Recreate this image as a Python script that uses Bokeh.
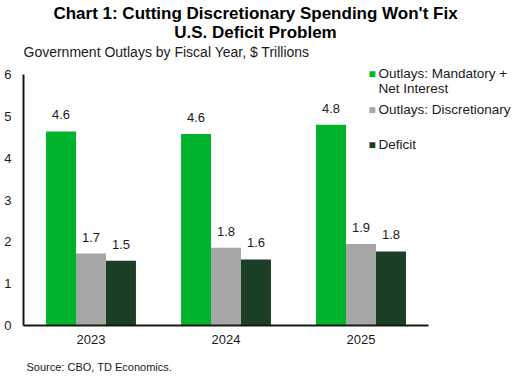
from bokeh.plotting import figure
from bokeh.models import ColumnDataSource, Range1d, LabelSet, Label, FixedTicker, Title
from bokeh.core.properties import value
from bokeh.embed import file_html
from bokeh.resources import INLINE

years = ["2023", "2024", "2025"]
mandatory = [4.64, 4.58, 4.80]
discretionary = [1.72, 1.86, 1.95]
deficit = [1.55, 1.58, 1.77]
mandatory_lbl = ["4.6", "4.6", "4.8"]
discretionary_lbl = ["1.7", "1.8", "1.9"]
deficit_lbl = ["1.5", "1.6", "1.8"]
series_names = [["Outlays: Mandatory +", "Net Interest"], ["Outlays: Discretionary"], ["Deficit"]]
colors = ["#00B32C", "#A6A6A6", "#1B3F24"]
y_ticks = [0, 1, 2, 3, 4, 5, 6]

# layout (pixels)
W, H = 516, 385
FL, FB = 23, 60                 # frame left / bottom border
AX_TOP, AX_RIGHT = 74, 428      # where the y=6 level and the last category end sit
ppu_y = (H - FB - AX_TOP) / (y_ticks[-1] - y_ticks[0])
ppu_x = (AX_RIGHT - FL) / len(years)
x_end = (W - FL) / ppu_x
y_end = y_ticks[-1] + AX_TOP / ppu_y

xc = [i + 0.5 for i in range(len(years))]
bw = 0.222
src = ColumnDataSource(dict(
    xm=[x - bw for x in xc], xd=xc, xf=[x + bw for x in xc],
    m=mandatory, d=discretionary, f=deficit,
    ml=mandatory_lbl, dl=discretionary_lbl, fl=deficit_lbl))

p = figure(x_range=Range1d(0, x_end), y_range=Range1d(0, y_end),
           width=W, height=H, output_backend="svg", toolbar_location=None,
           min_border_left=FL, min_border_right=0, min_border_top=0, min_border_bottom=FB)
p.outline_line_color = None
p.xgrid.grid_line_color = None
p.ygrid.grid_line_color = None

FONT = "Liberation Sans"
TXT = "#1a1a1a"
for xk, fld, lb, c in zip(["xm", "xd", "xf"], ["m", "d", "f"], ["ml", "dl", "fl"], colors):
    p.vbar(x=xk, top=fld, width=bw, source=src, fill_color=c, line_color=None)
    p.add_layout(LabelSet(x=xk, y=fld, text=lb, source=src,
                          text_align="center", text_baseline="alphabetic", y_offset=12,
                          text_font=value(FONT), text_font_size=value("13px"),
                          text_color=TXT))

for ax in (p.xaxis[0], p.yaxis[0]):
    ax.axis_line_color = "#141a10"
    ax.axis_line_width = 2
    ax.major_tick_line_color = None
    ax.minor_tick_line_color = None
    ax.major_tick_out = 0
    ax.major_tick_in = 0
    ax.minor_tick_out = 0
    ax.minor_tick_in = 0
    ax.major_label_text_font = FONT
    ax.major_label_text_font_size = "13px"
    ax.major_label_text_color = TXT
p.xaxis.bounds = (0, len(years))
p.yaxis.bounds = (y_ticks[0], y_ticks[-1])
p.xaxis.ticker = FixedTicker(ticks=xc)
p.xaxis.major_label_overrides = {x: y for x, y in zip(xc, years)}
p.yaxis.ticker = FixedTicker(ticks=y_ticks)
p.xaxis.major_label_standoff = 9
p.yaxis.major_label_standoff = 12

FB_Y = H - FB  # frame bottom in page pixels
DY = 5.5       # baseline correction

def lab(x, y, text, size="13px", align="left", bold=False, color=TXT):
    # x, y in page pixels (y from top, alphabetic baseline)
    p.add_layout(Label(x=x - FL, y=FB_Y - y + DY, x_units="screen", y_units="screen", text=text,
                       text_align=align, text_baseline="alphabetic", text_font=FONT,
                       text_font_style="bold" if bold else "normal",
                       text_font_size=size, text_color=color))

lab(255, 18.5, "Chart 1: Cutting Discretionary Spending Won't Fix", "17px", "center", True, "#000000")
lab(255, 37, "U.S. Deficit Problem", "17px", "center", True, "#000000")
lab(23, 57, "Government Outlays by Fiscal Year, $ Trillions", "14px")

leg_base = [[78.7, 93.7], [114.5], [149.5]]
for names, bases, c in zip(series_names, leg_base, colors):
    lab(368, bases[0], "\u25A0", "12px", color=c)
    for n, b in zip(names, bases):
        lab(378, b, n, "13.5px")

p.add_layout(Title(text="Source:  CBO,  TD  Economics.", align="left", offset=3,
                   text_font=FONT, text_font_style="normal", text_font_size="11px",
                   text_color=TXT, standoff=25), "below")

open("out.html", "w").write(file_html(p, INLINE))
